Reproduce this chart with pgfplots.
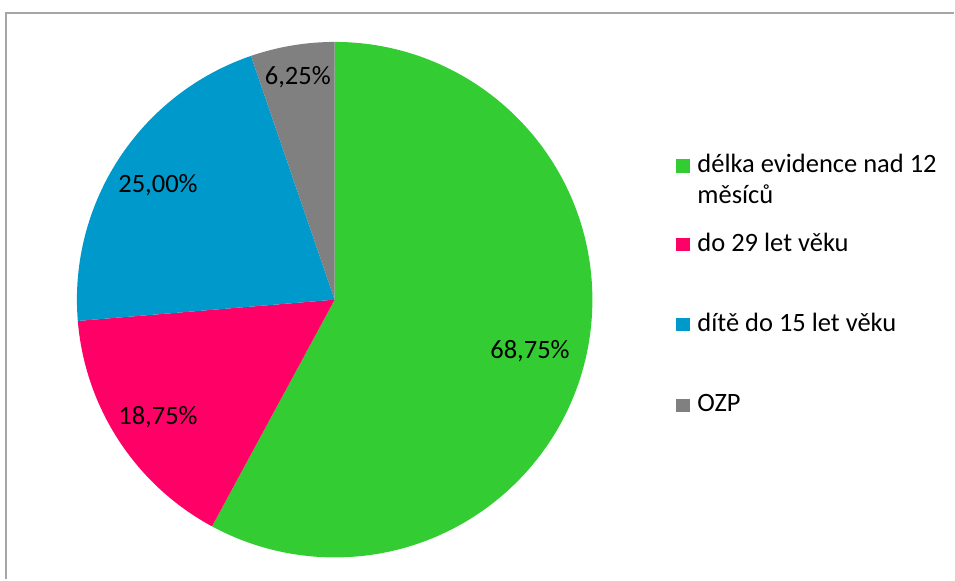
\documentclass[border=0pt]{standalone}
\usepackage{pgfplots}
\pgfplotsset{compat=1.18}
\usepackage{fontspec}
\setmainfont{Carlito}

\definecolor{sliceGreen}{HTML}{33CC33}
\definecolor{slicePink}{HTML}{FF0066}
\definecolor{sliceBlue}{HTML}{0099CC}
\definecolor{sliceGray}{HTML}{808080}
\definecolor{frameGray}{HTML}{A6A6A6}

\begin{document}
\begin{tikzpicture}
% === Values (shares do not add up to 100, pie is proportional) ===
\pgfmathsetmacro{\vA}{68.75}
\pgfmathsetmacro{\vB}{18.75}
\pgfmathsetmacro{\vC}{25.00}
\pgfmathsetmacro{\vD}{6.25}
\pgfmathsetmacro{\tot}{\vA+\vB+\vC+\vD}
\pgfmathsetmacro{\aA}{90}
\pgfmathsetmacro{\aB}{\aA-360*(\vA/\tot)}
\pgfmathsetmacro{\aC}{\aB-360*(\vB/\tot)}
\pgfmathsetmacro{\aD}{\aC-360*(\vC/\tot)}
\pgfmathsetmacro{\aE}{\aD-360*(\vD/\tot)}
\def\R{258bp}
\begin{axis}[
  scale only axis,
  width=955bp, height=580bp,
  xmin=0, xmax=955, ymin=0, ymax=580,
  hide axis,
  clip=false,
  font=\fontsize{26.5bp}{30.6bp}\selectfont,
]
\path (axis cs:0,0) rectangle (axis cs:955,580);

% === Frame ===
\draw[frameGray, line width=2bp] (axis cs:6.5,0) -- (axis cs:6.5,567) -- (axis cs:955,567);

% === Slices ===
\fill[sliceGreen] (axis cs:335,280) -- ++(\aA:\R) arc[start angle=\aA, end angle=\aB, radius=\R] -- cycle;
\fill[slicePink]  (axis cs:335,280) -- ++(\aB:\R) arc[start angle=\aB, end angle=\aC, radius=\R] -- cycle;
\fill[sliceBlue]  (axis cs:335,280) -- ++(\aC:\R) arc[start angle=\aC, end angle=\aD, radius=\R] -- cycle;
\fill[sliceGray]  (axis cs:335,280) -- ++(\aD:\R) arc[start angle=\aD, end angle=\aE, radius=\R] -- cycle;

% === Data labels ===
\node[anchor=base west, inner sep=0pt] at (axis cs:490.7,220.7) {68,75\%};
\node[anchor=base west, inner sep=0pt] at (axis cs:118.3,155) {18,75\%};
\node[anchor=base west, inner sep=0pt] at (axis cs:118.3,387.7) {25,00\%};
\node[anchor=base west, inner sep=0pt] at (axis cs:265,495.7) {6,25\%};

% === Legend ===
\fill[sliceGreen] (axis cs:677,407.3) rectangle (axis cs:691,421);
\fill[slicePink]  (axis cs:677,328.3) rectangle (axis cs:691,341.7);
\fill[sliceBlue]  (axis cs:677,248.3) rectangle (axis cs:691,262);
\fill[sliceGray]  (axis cs:677,167.7) rectangle (axis cs:691,181);
\node[anchor=base west, inner sep=0pt] at (axis cs:698,407.3) {délka evidence nad 12};
\node[anchor=base west, inner sep=0pt] at (axis cs:698,376.7) {měsíců};
\node[anchor=base west, inner sep=0pt] at (axis cs:698,328.3) {do 29 let věku};
\node[anchor=base west, inner sep=0pt] at (axis cs:698,248.3) {dítě do 15 let věku};
\node[anchor=base west, inner sep=0pt] at (axis cs:698,167.7) {OZP};
\end{axis}
\end{tikzpicture}
\end{document}
